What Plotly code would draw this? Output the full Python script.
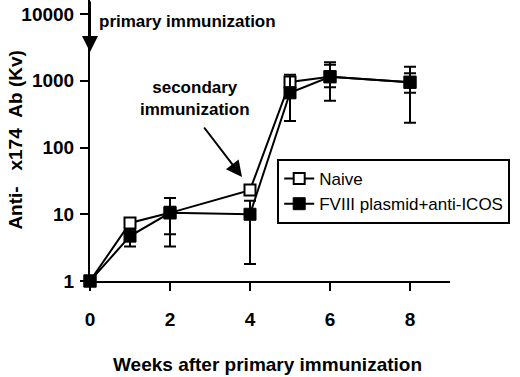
import plotly.graph_objects as go

weeks = [0, 1, 2, 4, 5, 6, 8]

naive = [1, 7.4, 10.5, 23, 960, 1150, 950]
naive_upper = [1, 8.5, 17.5, 26, 1100, 1900, 1620]
naive_lower = [1, 6.5, 3.3, 20, 780, 800, 660]

fviii = [1, 4.7, 10.5, 10, 660, 1150, 950]
fviii_upper = [1, 6.0, 13, 16, 1230, 1730, 1300]
fviii_lower = [1, 3.3, 5.0, 1.8, 250, 500, 235]

x_ticks = [0, 2, 4, 6, 8]
y_ticks = [1, 10, 100, 1000, 10000]
y_ticktext = ["1", "10", "100", "1000", "10000"]

FONT = "Liberation Sans, Arial, sans-serif"


def err(vals, up, lo):
    return dict(type="data", symmetric=False,
                array=[u - v for u, v in zip(up, vals)],
                arrayminus=[v - l for v, l in zip(vals, lo)],
                color="black", thickness=2, width=6)


fig = go.Figure()
fig.add_trace(go.Scatter(
    x=weeks, y=naive, name="Naive", mode="lines+markers",
    line=dict(color="black", width=2),
    marker=dict(symbol="square", size=11, color="white",
                line=dict(color="black", width=2)),
    error_y=err(naive, naive_upper, naive_lower), cliponaxis=False))
fig.add_trace(go.Scatter(
    x=weeks, y=fviii, name="FVIII plasmid+anti-ICOS", mode="lines+markers",
    line=dict(color="black", width=2),
    marker=dict(symbol="square", size=12, color="black",
                line=dict(color="black", width=1)),
    error_y=err(fviii, fviii_upper, fviii_lower), cliponaxis=False))

fig.update_layout(
    width=520, height=377,
    margin=dict(l=90, r=70, t=0, b=96),
    paper_bgcolor="white", plot_bgcolor="white",
    font=dict(family=FONT, color="black"),
    showlegend=True,
    legend=dict(x=0.52, y=0.434, xanchor="left", yanchor="top",
                bordercolor="black", borderwidth=2, bgcolor="white",
                font=dict(family=FONT, size=17, color="black"),
                tracegroupgap=0),
    xaxis=dict(range=[0, 9], tickvals=x_ticks, ticks="outside", ticklen=8,
               tickwidth=2, tickcolor="black", showline=True, linecolor="black",
               linewidth=2, showgrid=False, zeroline=False,
               tickfont=dict(family=FONT, size=19, color="black", weight="bold"),
               ticklabelstandoff=12),
    yaxis=dict(type="log", range=[0, 4.21], tickvals=y_ticks, ticktext=y_ticktext,
               ticks="outside", ticklen=8, tickwidth=2, tickcolor="black",
               showline=True, linecolor="black", linewidth=2, showgrid=False,
               zeroline=False,
               tickfont=dict(family=FONT, size=19, color="black", weight="bold"),
               ticklabelstandoff=2),
)

bold = dict(family=FONT, color="black", weight="bold")
fig.add_annotation(xref="paper", yref="paper", x=-0.208, y=0.5,
                   text="Anti-\u00a0\u00a0\u00a0x174\u00a0\u00a0Ab (Kv)",
                   textangle=-90, showarrow=False, xanchor="center", yanchor="middle",
                   font=dict(size=19, **bold))
fig.add_annotation(xref="paper", yref="paper", x=0.494, y=1 - 364 / 281,
                   text="Weeks after primary immunization", showarrow=False,
                   xanchor="center", yanchor="middle", font=dict(size=19, **bold))
fig.add_annotation(xref="paper", yref="paper", x=0.019, y=0.922,
                   text="primary immunization", showarrow=False,
                   xanchor="left", yanchor="middle", font=dict(size=17, **bold))
fig.add_annotation(xref="paper", yref="paper", x=0.0, y=1 - 52 / 281,
                   text="", showarrow=True, ax=0, ay=-52, axref="pixel", ayref="pixel",
                   arrowhead=2, arrowsize=1.6, arrowwidth=2, arrowcolor="black")
fig.add_annotation(xref="paper", yref="paper", x=(195 - 90) / 360, y=1 - 98 / 281,
                   text="secondary<br>immunization", showarrow=False,
                   xanchor="center", yanchor="middle", font=dict(size=17, **bold))
fig.add_annotation(xref="paper", yref="paper", x=(242 - 90) / 360, y=1 - 177 / 281,
                   text="", showarrow=True, ax=-39, ay=-51,
                   arrowhead=2, arrowsize=1.6, arrowwidth=2, arrowcolor="black")

fig.write_html("out.html", config={"displayModeBar": False},
               post_script="document.body.style.margin='0px';document.body.style.padding='0px';")
